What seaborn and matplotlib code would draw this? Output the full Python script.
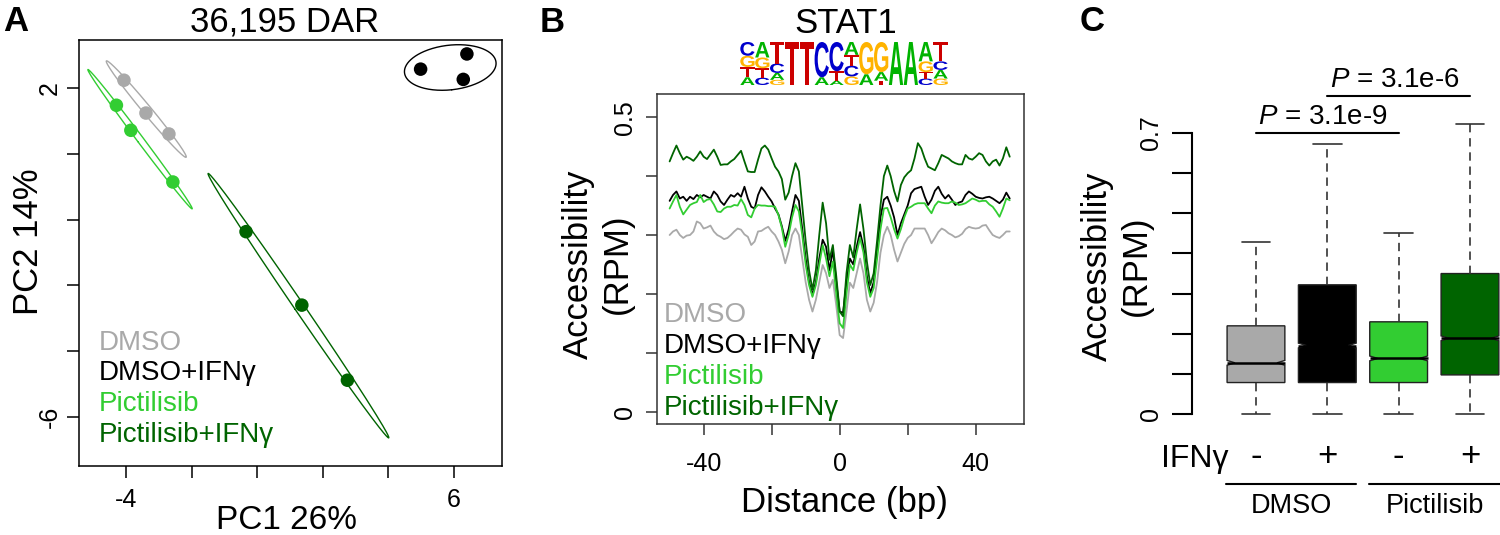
import numpy as np
import pandas as pd
import matplotlib
matplotlib.use("Agg")
import matplotlib.pyplot as plt
import seaborn as sns
from matplotlib.lines import Line2D
from matplotlib.path import Path
from matplotlib.patches import PathPatch
from matplotlib.textpath import TextPath
from matplotlib.font_manager import FontProperties
from matplotlib import transforms

W, H = 1500, 535

groups = ["DMSO", "DMSO+IFNγ", "Pictilisib", "Pictilisib+IFNγ"]
group_colors = ["#A9A9A9", "#000000", "#32CD32", "#006400"]

# A: PCA of the differentially accessible regions
pca_group = ["DMSO"] * 3 + ["DMSO+IFNγ"] * 3 + ["Pictilisib"] * 3 + ["Pictilisib+IFNγ"] * 3
pc1 = [-4.06, -3.39, -2.69, 4.98, 6.39, 6.28, -4.29, -3.85, -2.57, -0.34, 1.36, 2.75]
pc2 = [2.20, 1.40, 0.89, 2.47, 2.84, 2.22, 1.59, 0.98, -0.28, -1.49, -3.28, -5.11]

# B: STAT1 footprint, one value per bp from -50 to 50
distance = list(range(-50, 51))
rpm_dmso = [
    0.300, 0.306, 0.309, 0.300, 0.295, 0.299, 0.300, 0.306, 0.323, 0.320,
    0.311, 0.313, 0.316, 0.306, 0.300, 0.297, 0.293, 0.295, 0.300, 0.306,
    0.311, 0.309, 0.301, 0.297, 0.283, 0.289, 0.306, 0.307, 0.311, 0.314,
    0.306, 0.300, 0.289, 0.275, 0.252, 0.272, 0.300, 0.311, 0.300, 0.260,
    0.220, 0.190, 0.170, 0.190, 0.220, 0.249, 0.235, 0.210, 0.224, 0.180,
    0.130, 0.125, 0.170, 0.219, 0.210, 0.235, 0.260, 0.235, 0.190, 0.170,
    0.185, 0.220, 0.270, 0.300, 0.314, 0.300, 0.275, 0.255, 0.270, 0.285,
    0.295, 0.300, 0.311, 0.311, 0.311, 0.311, 0.300, 0.286, 0.295, 0.305,
    0.311, 0.308, 0.303, 0.300, 0.296, 0.298, 0.302, 0.310, 0.314, 0.312,
    0.311, 0.312, 0.316, 0.317, 0.308, 0.300, 0.297, 0.295, 0.300, 0.306,
    0.306,
]
rpm_dmso_ifn = [
    0.358, 0.368, 0.374, 0.362, 0.365, 0.358, 0.365, 0.361, 0.368, 0.364,
    0.368, 0.365, 0.362, 0.374, 0.368, 0.357, 0.351, 0.360, 0.368, 0.365,
    0.371, 0.365, 0.382, 0.362, 0.348, 0.345, 0.368, 0.381, 0.374, 0.365,
    0.357, 0.345, 0.335, 0.315, 0.290, 0.310, 0.340, 0.368, 0.358, 0.310,
    0.260, 0.220, 0.198, 0.220, 0.260, 0.292, 0.280, 0.240, 0.275, 0.220,
    0.170, 0.168, 0.220, 0.260, 0.250, 0.280, 0.305, 0.280, 0.230, 0.201,
    0.220, 0.270, 0.330, 0.360, 0.365, 0.350, 0.330, 0.300, 0.320, 0.335,
    0.350, 0.371, 0.378, 0.380, 0.382, 0.365, 0.351, 0.360, 0.375, 0.382,
    0.370, 0.362, 0.368, 0.360, 0.351, 0.355, 0.357, 0.368, 0.374, 0.370,
    0.365, 0.363, 0.362, 0.364, 0.365, 0.362, 0.358, 0.354, 0.360, 0.372,
    0.362,
]
rpm_pict = [
    0.345, 0.357, 0.368, 0.348, 0.335, 0.343, 0.351, 0.354, 0.356, 0.368,
    0.356, 0.360, 0.361, 0.352, 0.340, 0.339, 0.345, 0.348, 0.348, 0.351,
    0.350, 0.361, 0.351, 0.334, 0.330, 0.345, 0.351, 0.350, 0.350, 0.349,
    0.349, 0.348, 0.334, 0.312, 0.280, 0.300, 0.330, 0.351, 0.340, 0.300,
    0.250, 0.215, 0.195, 0.215, 0.250, 0.283, 0.260, 0.230, 0.255, 0.200,
    0.150, 0.142, 0.200, 0.250, 0.240, 0.270, 0.295, 0.270, 0.220, 0.195,
    0.210, 0.260, 0.310, 0.345, 0.346, 0.330, 0.310, 0.294, 0.310, 0.330,
    0.345, 0.348, 0.352, 0.354, 0.354, 0.354, 0.345, 0.337, 0.350, 0.357,
    0.355, 0.354, 0.354, 0.357, 0.355, 0.351, 0.352, 0.354, 0.358, 0.362,
    0.360, 0.357, 0.358, 0.358, 0.352, 0.348, 0.340, 0.331, 0.345, 0.362,
    0.359,
]
rpm_pict_ifn = [
    0.425, 0.439, 0.452, 0.439, 0.428, 0.433, 0.430, 0.426, 0.433, 0.442,
    0.433, 0.429, 0.437, 0.445, 0.433, 0.419, 0.420, 0.420, 0.425, 0.429,
    0.436, 0.443, 0.425, 0.408, 0.407, 0.407, 0.428, 0.447, 0.452, 0.445,
    0.430, 0.416, 0.408, 0.395, 0.360, 0.372, 0.400, 0.422, 0.408, 0.350,
    0.290, 0.240, 0.207, 0.240, 0.300, 0.355, 0.320, 0.258, 0.283, 0.230,
    0.170, 0.162, 0.235, 0.283, 0.262, 0.310, 0.352, 0.310, 0.255, 0.215,
    0.235, 0.290, 0.350, 0.400, 0.418, 0.400, 0.375, 0.357, 0.385, 0.398,
    0.405, 0.410, 0.430, 0.456, 0.447, 0.430, 0.416, 0.413, 0.410, 0.422,
    0.436, 0.433, 0.430, 0.425, 0.422, 0.420, 0.420, 0.436, 0.430, 0.428,
    0.433, 0.439, 0.436, 0.425, 0.418, 0.425, 0.428, 0.418, 0.430, 0.449,
    0.433,
]

# STAT1 motif letter probabilities, 14 positions
motif_A = [0.18, 0.36, 0.16, 0.00, 0.00, 0.18, 0.10, 0.30, 0.25, 0.20, 1.00, 1.00, 0.45, 0.20]
motif_C = [0.32, 0.17, 0.22, 0.00, 0.00, 0.82, 0.68, 0.25, 0.00, 0.00, 0.00, 0.00, 0.15, 0.20]
motif_G = [0.26, 0.25, 0.12, 0.00, 0.00, 0.00, 0.00, 0.20, 0.75, 0.70, 0.00, 0.00, 0.25, 0.15]
motif_T = [0.24, 0.22, 0.50, 1.00, 1.00, 0.00, 0.22, 0.25, 0.00, 0.10, 0.00, 0.00, 0.15, 0.45]
base_colors = {"A": "#00B300", "C": "#0000CC", "G": "#FFB300", "T": "#CC0000"}

# C: accessibility at STAT1 sites
box_lo = [0.0, 0.0, 0.0, 0.0]
box_q1 = [0.079, 0.079, 0.079, 0.098]
box_med = [0.128, 0.171, 0.139, 0.189]
box_q3 = [0.220, 0.322, 0.230, 0.350]
box_hi = [0.429, 0.672, 0.450, 0.722]
ifn_signs = ["-", "+", "-", "+"]
pvals = ["3.1e-9", "3.1e-6"]

sns.set_style("ticks")
plt.rcParams["font.family"] = ["Liberation Sans", "DejaVu Sans"]
plt.rcParams["mathtext.fontset"] = "custom"
plt.rcParams["mathtext.rm"] = "Liberation Sans"
plt.rcParams["mathtext.it"] = "Liberation Sans:italic"
plt.rcParams["axes.unicode_minus"] = False
for k in ["text.color", "axes.labelcolor", "xtick.color", "ytick.color", "axes.edgecolor"]:
    plt.rcParams[k] = "black"

fig = plt.figure(figsize=(15, 5.35), dpi=100)


def px(x, y):
    return x / W, 1 - y / H


def axes_at(left, top, right, bottom):
    return fig.add_axes([left / W, 1 - bottom / H, (right - left) / W, (bottom - top) / H])


def ftext(x, y, s, **kw):
    fig.text(*px(x, y), s, **kw)


# ---------------- Panel A ----------------
axA = axes_at(79, 40, 502, 466)
pca_df = pd.DataFrame({"PC1": pc1, "PC2": pc2, "group": pca_group})
sns.scatterplot(data=pca_df, x="PC1", y="PC2", hue="group", hue_order=groups,
                palette=group_colors, s=95, linewidth=0, legend=False, ax=axA, zorder=3)
t = np.linspace(0, 2 * np.pi, 300)
for g, c in zip(groups, group_colors):
    pts = pca_df.loc[pca_df.group == g, ["PC1", "PC2"]].to_numpy()
    center = pts.mean(axis=0)
    vals, vecs = np.linalg.eigh(np.cov(pts.T))
    circ = np.vstack([np.cos(t), np.sin(t)]) * np.sqrt(np.clip(vals, 0, None))[:, None]
    ell = center[:, None] + 1.78 * vecs @ circ
    axA.plot(ell[0], ell[1], color=c, lw=1.0)
axA.set_xlim(-5.43, 7.46)
axA.set_ylim(-7.20, 3.18)
axA.set_xticks([-4, -2, 0, 2, 4, 6], ["-4", "", "", "", "", "6"])
axA.set_yticks(np.linspace(2, -6, 6), ["2", "", "", "", "", "-6"])
axA.set_xlabel("")
axA.set_ylabel("")
axA.tick_params(axis="both", length=8.6, width=1.1, labelsize=18)
axA.tick_params(axis="x", pad=7)
axA.tick_params(axis="y", pad=3.6, labelrotation=90)
for lab in axA.get_yticklabels():
    lab.set_va("center")
for sp in axA.spines.values():
    sp.set_linewidth(1.1)

ftext(3, 31, "A", fontsize=25, weight="bold", ha="left", va="baseline")
ftext(285, 31, "36,195 DAR", fontsize=25, ha="center", va="baseline")
ftext(287, 529, "PC1 26%", fontsize=24, ha="center", va="baseline")
ftext(28, 242, "PC2 14%", fontsize=25, ha="center", va="center", rotation=90)
for g, c, yb in zip(groups, group_colors, [350, 380.5, 411, 441.5]):
    ftext(99, yb, g, fontsize=20, color=c, ha="left", va="baseline")

# ---------------- Panel B ----------------
axB = axes_at(656.7, 94.3, 1024, 424)
foot = pd.DataFrame({
    "distance": distance * 4,
    "rpm": rpm_dmso + rpm_dmso_ifn + rpm_pict + rpm_pict_ifn,
    "group": np.repeat(groups, len(distance)),
})
sns.lineplot(data=foot, x="distance", y="rpm", hue="group", hue_order=groups,
             palette=group_colors, lw=1.3, estimator=None, legend=False, ax=axB)
axB.set_xlim(-53.8, 54.2)
axB.set_ylim(-0.021, 0.539)
axB.set_xticks([-40, -20, 0, 20, 40], ["-40", "", "0", "", "40"])
axB.set_yticks(np.arange(0, 0.51, 0.1), ["0", "", "", "", "", "0.5"])
axB.set_xlabel("")
axB.set_ylabel("")
axB.tick_params(axis="both", length=8, width=1.1, labelsize=18, color="#333333")
axB.tick_params(axis="x", pad=12)
axB.tick_params(axis="y", pad=6.5, labelrotation=90)
for lab in axB.get_yticklabels():
    lab.set_va("center")
for sp in axB.spines.values():
    sp.set_linewidth(1.1)
    sp.set_color("#333333")

ftext(540, 32, "B", fontsize=25, weight="bold", ha="left", va="baseline")
ftext(846, 33, "STAT1", fontsize=25, ha="center", va="baseline")
ftext(844.5, 512, "Distance (bp)", fontsize=25, ha="center", va="baseline")
ftext(598, 264, "Accessibility\n(RPM)", fontsize=25, ha="center", va="center",
      rotation=90, linespacing=1.2)
for g, c, yb in zip(groups, group_colors, [321.7, 353, 383.5, 415]):
    ftext(664, yb, g, fontsize=20, color=c, ha="left", va="baseline")

# motif logo
axL = axes_at(740, 42, 948, 85)
axL.set_xlim(0, len(motif_A))
axL.set_ylim(0, 1)
axL.axis("off")
logo_font = FontProperties(family="Liberation Sans", weight="bold")
for i in range(len(motif_A)):
    col = {"A": motif_A[i], "C": motif_C[i], "G": motif_G[i], "T": motif_T[i]}
    y0 = 0.0
    for base, h in sorted(col.items(), key=lambda kv: kv[1]):
        if h <= 0:
            continue
        tp = TextPath((0, 0), base, size=1, prop=logo_font)
        bb = tp.get_extents()
        tr = (transforms.Affine2D().translate(-bb.x0, -bb.y0)
              .scale(0.96 / bb.width, h / bb.height).translate(i + 0.02, y0))
        axL.add_patch(PathPatch(tr.transform_path(tp), fc=base_colors[base], ec="none"))
        y0 += h

# ---------------- Panel C ----------------
axC = axes_at(1191.7, 60, 1500, 430)
positions = np.arange(len(box_med))
box_w = 0.81
stats = []
for lo, q1, md, q3, hi in zip(box_lo, box_q1, box_med, box_q3, box_hi):
    stats.append(dict(whislo=lo, q1=q1, med=md, q3=q3, whishi=hi,
                      cilo=md - 0.006, cihi=md + 0.006, fliers=[]))
bp = axC.bxp(stats, positions=positions, widths=box_w, capwidths=0.4,
             patch_artist=True, shownotches=True, showfliers=False,
             boxprops=dict(edgecolor="#222222", linewidth=1.0),
             whiskerprops=dict(color="#333333", linewidth=1.2, linestyle=(0, (5, 3.5))),
             capprops=dict(color="#333333", linewidth=1.2),
             medianprops=dict(color="black", linewidth=1.8))
for patch, med, p, c in zip(bp["boxes"], bp["medians"], positions, group_colors):
    patch.set_facecolor(c)
    path = patch.get_path()
    v = path.vertices.copy()
    v[3, 0] = p + box_w / 2 - 0.11
    v[8, 0] = p - box_w / 2 + 0.11
    patch.set_path(Path(v, path.codes))
    med.set_xdata([p - box_w / 2, p + box_w / 2])
axC.set_xlim(-0.901, 3.421)
axC.set_ylim(-0.039, 0.881)
axC.set_xticks([])
axC.set_yticks(np.arange(0, 0.71, 0.1), ["0", "", "", "", "", "", "", "0.7"])
axC.tick_params(axis="y", length=14.4, width=1.5, labelsize=18, pad=6.3, labelrotation=90)
for lab in axC.get_yticklabels():
    lab.set_va("center")
for s in ["top", "right", "bottom"]:
    axC.spines[s].set_visible(False)
axC.spines["left"].set_linewidth(1.5)
axC.spines["left"].set_bounds(0, 0.7)

# significance bars
axC.plot([positions[0], positions[2]], [0.70, 0.70], color="black", lw=1.5, clip_on=False)
axC.plot([positions[1], positions[3]], [0.792, 0.792], color="black", lw=1.5, clip_on=False)
axC.text(0.94, 0.722, r"$P$ = " + pvals[0], fontsize=20, ha="center", va="baseline")
axC.text(1.95, 0.815, r"$P$ = " + pvals[1], fontsize=20, ha="center", va="baseline")

ftext(1080, 31, "C", fontsize=25, weight="bold", ha="left", va="baseline")
ftext(1117, 266, "Accessibility\n(RPM)", fontsize=25, ha="center", va="center",
      rotation=90, linespacing=1.2)
ftext(1229, 467, "IFNγ", fontsize=23, ha="right", va="baseline")
sign_tr = transforms.blended_transform_factory(axC.transData, fig.transFigure)
for p, s in zip(positions, ifn_signs):
    axC.text(p, 1 - 466 / H, s, transform=sign_tr, fontsize=25, ha="center",
             va="baseline", clip_on=False)
for x1, x2, lab in [(1226, 1356, "DMSO"), (1369, 1500, "Pictilisib")]:
    fig.add_artist(Line2D([x1 / W, x2 / W], [1 - 484 / H] * 2, color="black", lw=1.5))
    ftext((x1 + x2) / 2, 513, lab, fontsize=19.5, ha="center", va="baseline")

fig.savefig("out.png", dpi=100)
